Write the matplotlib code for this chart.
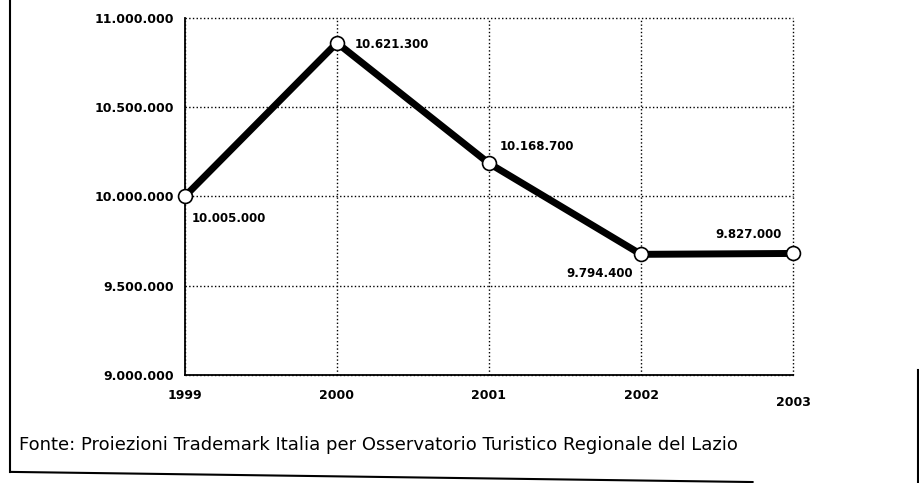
import matplotlib.pyplot as plt
from matplotlib.lines import Line2D

years = [1999, 2000, 2001, 2002, 2003]
values = [10000000, 10860000, 10185000, 9675000, 9680000]
point_labels = ['10.005.000', '10.621.300', '10.168.700', '9.794.400', '9.827.000']
y_ticks = [9000000, 9500000, 10000000, 10500000, 11000000]
y_tick_labels = ['9.000.000', '9.500.000', '10.000.000', '10.500.000', '11.000.000']
source = 'Fonte: Proiezioni Trademark Italia per Osservatorio Turistico Regionale del Lazio'

fig = plt.figure(figsize=(9.2, 4.83), dpi=100)
ax = fig.add_axes([0.201, 0.224, 0.661, 0.739])

ax.plot(years, values, color='black', linewidth=5, zorder=3, clip_on=False,
        marker='o', markersize=10, markerfacecolor='white',
        markeredgecolor='black', markeredgewidth=1.2)

ax.set_xlim(1999, 2003)
ax.set_ylim(9000000, 11000000)
ax.set_xticks(years)
ax.set_xticklabels([str(y) for y in years])
ax.set_yticks(y_ticks)
ax.set_yticklabels(y_tick_labels)
ax.tick_params(axis='y', length=0, pad=8, labelsize=9)
ax.tick_params(axis='x', length=0, pad=10, labelsize=9)
for lab in ax.get_xticklabels() + ax.get_yticklabels():
    lab.set_fontweight('bold')
# last year label sits a bit lower in the original
ax.get_xticklabels()[-1].set_y(-0.02)

ax.grid(True, linestyle=':', color='black', linewidth=1)
for gl in ax.get_xgridlines() + ax.get_ygridlines():
    gl.set_clip_on(False)
for s in ['top', 'right']:
    ax.spines[s].set_visible(False)
ax.spines['left'].set_linewidth(1.3)
ax.spines['bottom'].set_linewidth(1.3)

# point labels
offsets = [(5, -16, 'left'), (13, -1, 'left'), (8, 12, 'left'), (-6, -14, 'right'), (-8, 14, 'right')]
for x, y, t, (dx, dy, ha) in zip(years, values, point_labels, offsets):
    ax.annotate(t, (x, y), xytext=(dx, dy), textcoords='offset points',
                ha=ha, va='center', fontsize=8.5, fontweight='bold')

# scan frame
fig.add_artist(Line2D([0.011, 0.011], [0.023, 1.0], color='black', linewidth=1.5))
fig.add_artist(Line2D([0.011, 0.818], [0.023, 0.002], color='black', linewidth=1.5))
fig.add_artist(Line2D([0.998, 0.998], [0.0, 0.234], color='black', linewidth=1.5))

fig.text(0.021, 0.078, source, fontsize=13, va='center', ha='left')

fig.savefig('out.png', dpi=100)
